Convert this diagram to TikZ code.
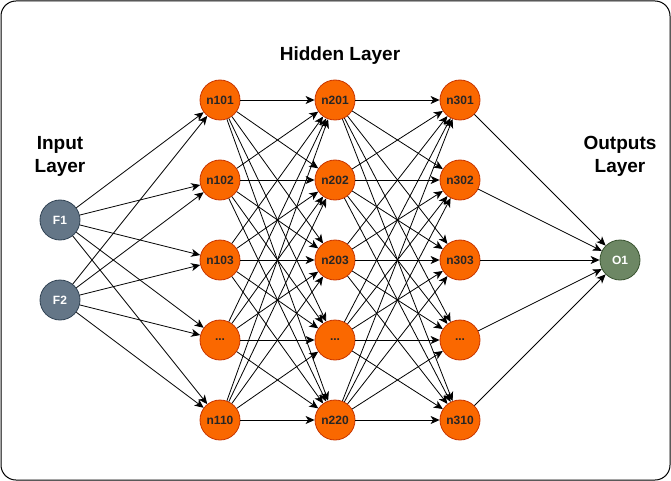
\documentclass[tikz,border=0pt]{standalone}
\usepackage{fontspec}
\setmainfont{Liberation Sans}
\usetikzlibrary{arrows.meta}
\definecolor{hidfill}{HTML}{FA6800}
\definecolor{hidline}{HTML}{C73500}
\definecolor{infill}{HTML}{647687}
\definecolor{inline}{HTML}{314354}
\definecolor{outfill}{HTML}{6D8764}
\definecolor{outline}{HTML}{3A5431}
\tikzset{
  neuron/.style={circle, minimum size=40pt, inner sep=0pt, line width=0.8pt, font=\bfseries\fontsize{12}{13}\selectfont},
  hidden/.style={neuron, fill=hidfill, draw=hidline, text=black!85},
  inputn/.style={neuron, fill=infill, draw=inline, text=white},
  outputn/.style={neuron, fill=outfill, draw=outline, text=white},
  wire/.style={line width=0.8pt, -{Stealth[length=9pt,width=8pt,inset=2.5pt]}},
  title/.style={font=\bfseries\fontsize{19}{23}\selectfont, align=center}
}
\begin{document}
\begin{tikzpicture}[x=1pt,y=-1pt]
\useasboundingbox (0,0) rectangle (671,481);
% outer frame
\draw[line width=1pt, rounded corners=15pt] (1,1) rectangle (670,480);

% layer titles
\node[title] (tin) at (60,156) {Input\\Layer};
\node[title] (thid) at (340,56) {Hidden Layer};
\node[title] (tout) at (620,156) {Outputs\\Layer};

% input neurons
\node[inputn] (F1) at (60,220) {F1};
\node[inputn] (F2) at (60,300) {F2};

% first hidden layer
\node[hidden] (a1) at (220,100) {n101};
\node[hidden] (a2) at (220,180) {n102};
\node[hidden] (a3) at (220,260) {n103};
\node[hidden] (a4) at (220,340) {...};
\node[hidden] (a5) at (220,420) {n110};
% second hidden layer
\node[hidden] (b1) at (335,100) {n201};
\node[hidden] (b2) at (335,180) {n202};
\node[hidden] (b3) at (335,260) {n203};
\node[hidden] (b4) at (335,340) {...};
\node[hidden] (b5) at (335,420) {n220};
% third hidden layer
\node[hidden] (c1) at (460,100) {n301};
\node[hidden] (c2) at (460,180) {n302};
\node[hidden] (c3) at (460,260) {n303};
\node[hidden] (c4) at (460,340) {...};
\node[hidden] (c5) at (460,420) {n310};

% output neuron
\node[outputn] (O1) at (620,260) {O1};

% connections
\foreach \s in {F1,F2}
  \foreach \j in {1,2,3,4,5}
    \draw[wire] (\s) -- (a\j);
\foreach \i in {1,2,3,4,5}
  \foreach \j in {1,2,3,4,5}
    \draw[wire] (a\i) -- (b\j);
\foreach \i in {1,2,3,4,5}
  \foreach \j in {1,2,3,4,5}
    \draw[wire] (b\i) -- (c\j);
\foreach \i in {1,2,3,4,5}
  \draw[wire] (c\i) -- (O1);
\end{tikzpicture}
\end{document}
